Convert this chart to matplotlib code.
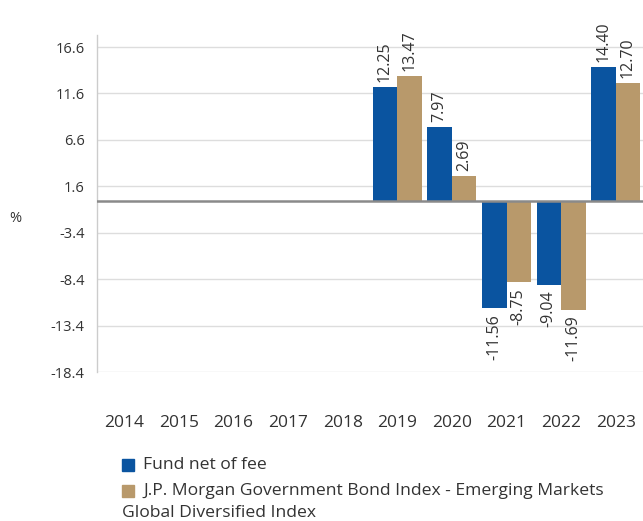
import matplotlib
matplotlib.use("Agg")
import matplotlib.pyplot as plt
import numpy as np
from matplotlib.patches import Rectangle

years = ["2014", "2015", "2016", "2017", "2018", "2019", "2020", "2021", "2022", "2023"]
fund = [np.nan, np.nan, np.nan, np.nan, np.nan, 12.25, 7.97, -11.56, -9.04, 14.40]
index = [np.nan, np.nan, np.nan, np.nan, np.nan, 13.47, 2.69, -8.75, -11.69, 12.70]
yticks = [16.6, 11.6, 6.6, 1.6, -3.4, -8.4, -13.4, -18.4]
labels = ["Fund net of fee",
          "J.P. Morgan Government Bond Index - Emerging Markets\nGlobal Diversified Index"]

blue = "#0A54A0"
tan = "#B8996B"
txt = "#333333"

plt.rcParams['font.family'] = ['Open Sans', 'DejaVu Sans']

fig = plt.figure(figsize=(6.43, 5.21), dpi=100)
ax = fig.add_axes([97/643, (521-372)/521, 546/643, (372-35)/521])

x = np.arange(len(years))
w = 0.45
b1 = ax.bar(x - w/2, fund, w, color=blue, zorder=3)
b2 = ax.bar(x + w/2, index, w, color=tan, zorder=3)

for bars, vals in ((b1, fund), (b2, index)):
    for rect, v in zip(bars, vals):
        if np.isnan(v):
            continue
        cx = rect.get_x() + rect.get_width()/2
        if v >= 0:
            ax.annotate(f"{v:.2f}", (cx, v), xytext=(0, 4), textcoords="offset points",
                        rotation=90, ha="center", va="bottom", fontsize=11.5, color=txt)
        else:
            ax.annotate(f"{v:.2f}", (cx, v), xytext=(0, -4), textcoords="offset points",
                        rotation=90, ha="center", va="top", fontsize=11.5, color=txt)

ax.set_xlim(-0.5, len(years) - 0.5)
ax.set_ylim(-18.4, 17.9)
ax.set_yticks(yticks)
ax.set_yticklabels([f"{t:.1f}" for t in yticks])
ax.set_xticks(x)
ax.set_xticklabels(years)
ax.tick_params(axis="y", length=0, pad=9, labelsize=10.5, colors=txt)
ax.tick_params(axis="x", length=0, pad=31, labelsize=12.5, colors=txt)
ax.grid(axis="y", color="#dddddd", linewidth=1, zorder=0)
ax.axhline(0, color="#8a8a8a", linewidth=1.8, zorder=4)
for s in ("top", "right", "bottom"):
    ax.spines[s].set_visible(False)
ax.spines["left"].set_color("#cccccc")
ax.spines["left"].set_linewidth(1)

fig.text(15/643, 1 - 218/521, "%", fontsize=10.5, color=txt, ha="center", va="center")

# legend
for i, (lab, col, ytop) in enumerate(((labels[0], blue, 465), (labels[1], tan, 491))):
    fig.patches.append(Rectangle((122/643, 1 - (ytop + 6)/521), 12/643, 12/521,
                                 transform=fig.transFigure, color=col, figure=fig))
lab2a, lab2b = labels[1].split("\n")
fig.text(143/643, 1 - 465/521, labels[0], fontsize=12.6, color=txt, va="center")
fig.text(143/643, 1 - 491/521, lab2a, fontsize=12.6, color=txt, va="center")
fig.text(122/643, 1 - 513/521, lab2b, fontsize=12.6, color=txt, va="center")

fig.savefig("out.png", dpi=100)
